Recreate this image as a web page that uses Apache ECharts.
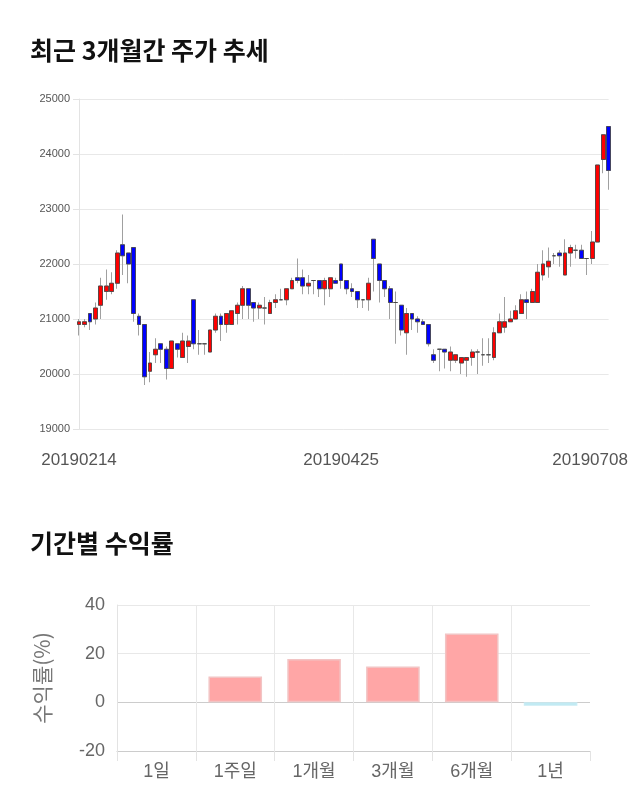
<!DOCTYPE html>
<html><head><meta charset="utf-8">
<script src="https://cdn.jsdelivr.net/npm/echarts@6/dist/echarts.min.js"></script>
<style>html,body{margin:0;padding:0;background:#fff}#c{width:640px;height:810px}</style>
</head><body><div id="c"></div>
<script>
// ---- data ----
const dates = [
'20190214','20190215','20190218','20190219','20190221','20190222','20190225','20190226','20190227','20190228',
'20190304','20190305','20190306','20190307','20190308','20190311','20190312','20190313','20190314','20190315',
'20190318','20190319','20190320','20190321','20190322','20190325','20190326','20190327','20190328','20190329',
'20190401','20190402','20190403','20190404','20190405','20190408','20190409','20190410','20190411','20190412',
'20190415','20190416','20190417','20190418','20190419','20190422','20190423','20190424','20190425','20190426',
'20190429','20190430','20190502','20190503','20190507','20190508','20190509','20190510','20190513','20190514',
'20190515','20190516','20190517','20190520','20190521','20190522','20190523','20190524','20190527','20190528',
'20190529','20190530','20190531','20190603','20190604','20190605','20190607','20190610','20190611','20190612',
'20190613','20190614','20190617','20190618','20190619','20190620','20190621','20190624','20190625','20190626',
'20190627','20190628','20190701','20190702','20190703','20190704','20190705','20190708'];
const openP = [
20900,20900,21100,21000,21250,21500,21500,21650,22350,22200,
22300,21050,20900,20050,20350,20550,20450,20100,20550,20300,
20500,21350,20550,20550,20400,20800,21050,20900,20900,21100,
21250,21550,21300,21200,21200,21100,21300,21350,21350,21550,
21750,21750,21600,21700,21700,21550,21550,21700,22000,21700,
21550,21500,21350,21350,22450,22000,21700,21550,21300,21250,
20750,21100,21000,20950,20900,20350,20450,20450,20250,20250,
20200,20250,20300,20400,20350,20350,20300,20750,20850,20950,
21000,21100,21350,21300,21300,21800,21950,22150,22200,21800,
22200,22250,22250,22100,22100,22400,23900,24500];
const closeP = [
20950,20950,20950,21200,21600,21600,21650,22200,22150,22000,
21100,20900,19950,20200,20450,20450,20100,20600,20450,20600,
20600,20550,20550,20550,20800,21050,20900,21100,21150,21250,
21550,21250,21200,21250,21200,21300,21350,21350,21550,21700,
21700,21600,21650,21700,21550,21700,21750,21650,21700,21550,
21500,21350,21350,21650,22100,21700,21550,21300,21300,20800,
21100,21000,20950,20900,20550,20250,20450,20400,20400,20350,
20300,20300,20400,20400,20350,20350,20750,20950,20950,21000,
21150,21350,21300,21500,21850,22000,22050,22150,22150,22200,
22300,22250,22100,22100,22400,23800,24350,23700];
const lowP = [
20700,20850,20800,20900,21000,21350,21450,21550,21800,21650,
20950,20700,19800,19850,20200,20200,19900,20100,20300,20300,
20200,20450,20350,20350,20400,20750,20600,20750,20900,20900,
21000,21000,20950,21000,20900,21100,21200,21350,21250,21550,
21650,21450,21450,21450,21400,21250,21400,21650,21550,21450,
21400,21200,21200,21150,21500,21300,21400,21000,20550,20700,
20350,20800,20750,20900,20500,20200,20050,20100,20050,20200,
20000,19950,20150,20000,20150,20200,20250,20750,20750,20950,
21000,21100,21000,21300,21300,21700,21750,22000,21950,21800,
21950,22100,22100,21800,22000,22400,23650,23350];
const highP = [
21000,21000,21100,21300,21750,21900,21850,22250,22900,22200,
22300,21100,20900,20400,20650,20550,20500,20600,20550,20750,
20700,21350,20800,20550,20800,21100,21100,21100,21150,21300,
21600,21550,21300,21300,21400,21350,21450,21550,21550,21750,
22100,21900,21800,21700,21700,21750,21750,21750,22000,21700,
21650,21500,21350,21750,22450,22000,21700,21600,21500,21250,
21200,21100,21050,21000,20900,20450,20450,20450,20500,20350,
20300,20300,20450,20450,20650,20650,20850,21100,21400,21150,
21250,21450,21500,21550,22000,22250,22300,22200,22250,22450,
22350,22350,22350,22100,22600,23800,24350,24500];
const dateLabelIdx = [0, 48, 97];
const priceAxis = {min: 19000, max: 25000, step: 1000};

const periods = ['1일','1주일','1개월','3개월','6개월','1년'];
const returns = [0, 10.6, 17.8, 14.7, 28.3, -1.4];
const returnAxis = {min: -20, max: 40, step: 20};

// ---- chart ----
const wickData = dates.map((d,i)=>[openP[i], closeP[i], lowP[i], highP[i]]);
const bodyData = dates.map((d,i)=>[openP[i], closeP[i], Math.min(openP[i],closeP[i]), Math.max(openP[i],closeP[i])]);
const numFont = "'Liberation Sans', 'Noto Sans CJK KR', sans-serif";
const krFont = "'Noto Sans CJK KR', sans-serif";

const chart = echarts.init(document.getElementById('c'), null, {renderer:'canvas'});
chart.setOption({
  animation: false,
  backgroundColor: '#fff',
  title: [
    {text: '최근 3개월간 주가 추세', left: 25, top: 33,
     textStyle: {fontFamily: krFont, fontSize: 25, fontWeight: 'bold', color: '#111'}},
    {text: '기간별 수익률', left: 25, top: 526,
     textStyle: {fontFamily: krFont, fontSize: 25, fontWeight: 'bold', color: '#111'}}
  ],
  grid: [
    {left: 79, top: 99, width: 529.6, height: 330, containLabel: false},
    {left: 117, top: 605, width: 473, height: 146, containLabel: false}
  ],
  xAxis: [
    {type: 'category', gridIndex: 0, data: dates, boundaryGap: false,
     axisLine: {show: false}, axisTick: {show: false}, splitLine: {show: false},
     axisLabel: {
       interval: (i) => dateLabelIdx.indexOf(i) >= 0,
       formatter: (v, i) => i === dateLabelIdx[2] ? '{last|' + v + '}' : v,
       rich: {last: {fontFamily: numFont, fontSize: 17, color: '#555', padding: [0, 37, 0, 0]}},
       margin: 23, fontFamily: numFont, fontSize: 17, color: '#555'
     }},
    {type: 'category', gridIndex: 1, data: periods, boundaryGap: true,
     axisLine: {show: true, onZero: false, lineStyle: {color: '#cccccc'}},
     axisTick: {show: true, length: 10, lineStyle: {color: '#e3e3e3'}},
     splitLine: {show: true, lineStyle: {color: ['#e8e8e8','#e8e8e8','#e8e8e8','#e8e8e8','#e8e8e8','#e8e8e8','rgba(0,0,0,0)']}},
     axisLabel: {margin: 12, fontFamily: numFont, fontSize: 18, color: '#666'}}
  ],
  yAxis: [
    {type: 'value', gridIndex: 0, min: priceAxis.min, max: priceAxis.max, interval: priceAxis.step,
     axisLine: {show: true, lineStyle: {color: '#e3e3e3'}},
     axisTick: {show: true, length: 6, lineStyle: {color: '#e3e3e3'}},
     splitLine: {show: true, lineStyle: {color: '#e8e8e8'}},
     axisLabel: {margin: 9, fontFamily: numFont, fontSize: 11, color: '#555', formatter: (v) => String(v)}},
    {type: 'value', gridIndex: 1, min: returnAxis.min, max: returnAxis.max, interval: returnAxis.step,
     name: '수익률(%)', nameLocation: 'middle', nameRotate: 90, nameGap: 64,
     nameTextStyle: {fontFamily: krFont, fontSize: 21, color: '#777'},
     axisLine: {show: true, lineStyle: {color: '#e3e3e3'}},
     axisTick: {show: false},
     splitLine: {show: true, lineStyle: {color: ['#cccccc', '#cccccc', '#e8e8e8', '#e8e8e8']}},
     axisLabel: {margin: 12, fontFamily: numFont, fontSize: 18, color: '#666'}}
  ],
  series: [
    {type: 'candlestick', xAxisIndex: 0, yAxisIndex: 0, data: wickData, barWidth: 4.3,
     itemStyle: {color: '#a0a0a0', color0: '#a0a0a0', borderColor: '#a0a0a0', borderColor0: '#a0a0a0', borderWidth: 1}},
    {type: 'candlestick', xAxisIndex: 0, yAxisIndex: 0, data: bodyData, barWidth: 4.3,
     itemStyle: {color: '#ff0000', color0: '#0000ff', borderColor: '#444', borderColor0: '#444', borderWidth: 0.8}},
    {type: 'bar', xAxisIndex: 1, yAxisIndex: 1, barWidth: '68%',
     data: returns.map(v => ({value: v, itemStyle: v > 0
        ? {color: '#ffa6a6', borderColor: '#f2c4c4', borderWidth: 1.5}
        : v < 0 ? {color: '#aee4f0', borderColor: '#c8ecf4', borderWidth: 1.5}
        : {color: 'rgba(0,0,0,0)', borderWidth: 0}}))}
  ]
});
</script></body></html>
